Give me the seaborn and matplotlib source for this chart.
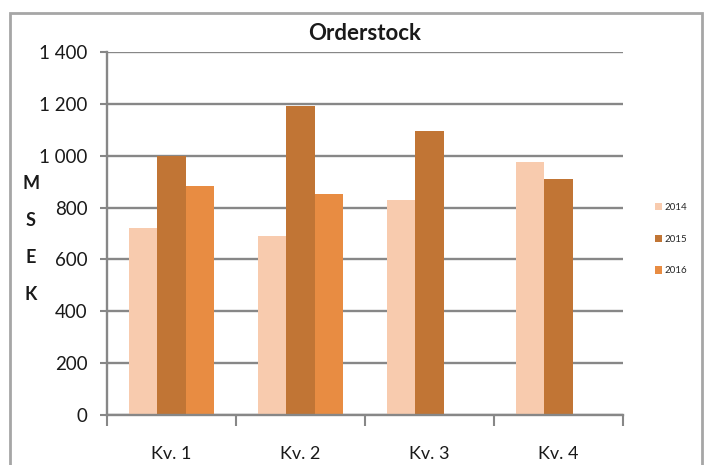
import numpy as np
import pandas as pd
import matplotlib
matplotlib.use("Agg")
import matplotlib.pyplot as plt
import seaborn as sns
from matplotlib.patches import Rectangle
from matplotlib.ticker import FuncFormatter, FixedLocator

# data
quarters = ["Kv. 1", "Kv. 2", "Kv. 3", "Kv. 4"]
years = ["2014", "2015", "2016"]
v2014 = [720, 690, 828, 975]
v2015 = [1000, 1190, 1095, 910]
v2016 = [885, 852, np.nan, np.nan]
colors = ["#F8CBAE", "#C17535", "#E88C42"]

sns.set_theme(style="white")
plt.rcParams["font.family"] = ["Lato", "DejaVu Sans"]

rows = []
for yr, vals in zip(years, [v2014, v2015, v2016]):
    for q, v in zip(quarters, vals):
        rows.append({"Quarter": q, "Year": yr, "Value": v})
df = pd.DataFrame(rows)

fig = plt.figure(figsize=(7.06, 4.65), dpi=100)
ax = fig.add_axes([0.1516, 0.1075, 0.7309, 0.7806])

sns.barplot(data=df, x="Quarter", y="Value", hue="Year", order=quarters,
            hue_order=years, palette=colors, width=0.66, saturation=1,
            errorbar=None, linewidth=0, ax=ax, legend=True)

grid_c = "#878787"
ax.set_ylim(0, 1400)
ax.set_xlim(-0.5, 3.5)
ax.set_yticks(range(0, 1401, 200))
ax.yaxis.set_major_formatter(FuncFormatter(lambda v, p: f"{int(v):,}".replace(",", " ")))
ax.yaxis.grid(True, color=grid_c, linewidth=1.7)
ax.set_axisbelow(True)
ax.tick_params(axis="y", which="major", left=True, length=5, width=1.5,
               color=grid_c, labelsize=13.5, pad=9, labelcolor="#1a1a1a")
ax.tick_params(axis="x", which="major", bottom=False, labelsize=13, pad=16,
               labelcolor="#1a1a1a")
ax.xaxis.set_minor_locator(FixedLocator([-0.5, 0.5, 1.5, 2.5, 3.5]))
ax.tick_params(axis="x", which="minor", bottom=True, length=8, width=1.5,
               color=grid_c)
for s in ["top", "right"]:
    ax.spines[s].set_visible(False)
for s in ["left", "bottom"]:
    ax.spines[s].set_color(grid_c)
    ax.spines[s].set_linewidth(1.7)

ax.set_xlabel("")
ax.set_ylabel("M\nS\nE\nK", rotation=0, fontsize=13, fontweight="bold",
              linespacing=2.45, va="center", ha="center", color="#1a1a1a")
ax.yaxis.set_label_coords(-0.148, 0.485)
ax.set_title("Orderstock", fontsize=16, fontweight="bold", pad=9,
             color="#1a1a1a")

handles, labels = ax.get_legend_handles_labels()
ax.legend(handles, labels, loc="center left", bbox_to_anchor=(0.915, 0.486),
          bbox_transform=fig.transFigure, frameon=False, fontsize=7,
          handlelength=0.75, handleheight=0.75, handletextpad=0.3,
          labelspacing=2.35)

fig.patches.append(Rectangle((0.014, -0.05), 0.98, 1.022, transform=fig.transFigure,
                             fill=False, edgecolor="#A6A6A6", linewidth=2))

fig.savefig("out.png", dpi=100)
